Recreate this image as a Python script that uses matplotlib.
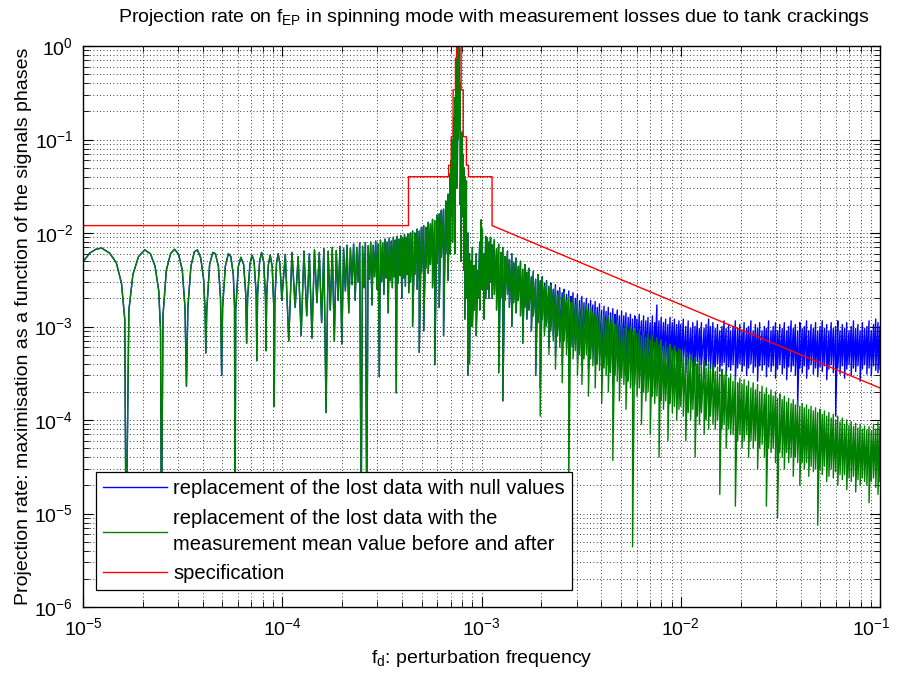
import numpy as np
import matplotlib
matplotlib.use("Agg")
import matplotlib.pyplot as plt
from matplotlib.ticker import LogLocator, NullFormatter
from matplotlib.transforms import ScaledTranslation

plt.rcParams['font.family'] = ['Liberation Sans', 'DejaVu Sans']
plt.rcParams['mathtext.fontset'] = 'custom'
plt.rcParams['mathtext.rm'] = 'Liberation Sans'
plt.rcParams['mathtext.it'] = 'Liberation Sans'
plt.rcParams['mathtext.default'] = 'regular'

# --- data ------------------------------------------------------------------
# low frequency part: separate sinc lobes, (frequency in 1e-5 Hz, rate)
lobe_f = [1.00, 1.08, 1.16, 1.24, 1.36, 1.47, 1.56, 1.62, 1.645,
          1.70, 1.78, 1.90, 2.04, 2.18, 2.30, 2.40, 2.45, 2.475,
          2.52, 2.62, 2.75, 2.88, 3.02, 3.15, 3.25, 3.305,
          3.36, 3.48, 3.62, 3.75, 3.90, 4.03, 4.10, 4.135,
          4.18, 4.32, 4.48, 4.62, 4.78, 4.90, 4.965,
          5.02, 5.18, 5.36, 5.52, 5.68, 5.76, 5.795,
          5.84, 6.02, 6.20, 6.40, 6.56, 6.625,
          6.70, 6.88, 7.05, 7.22, 7.40, 7.455,
          7.52, 7.70, 7.88, 8.08, 8.24, 8.285,
          8.36, 8.52, 8.70, 8.90, 9.07, 9.115,
          9.18, 9.36, 9.54, 9.74, 9.90, 9.945,
          10.36, 10.78, 11.19, 11.61, 12.02, 12.44, 12.85, 13.27,
          13.68, 14.10, 14.51, 14.93, 15.34, 15.76, 16.17, 16.59,
          17.00, 17.42, 17.83, 18.25, 18.66, 19.08, 19.49, 19.91,
          20.32, 20.74, 21.15, 21.57, 21.98, 22.40, 22.81, 23.23,
          23.64, 24.06, 24.47, 24.89, 25.30, 25.72, 26.13, 26.55,
          26.96, 27.38, 27.79, 28.21, 28.62, 29.04, 29.45, 29.87,
          30.28, 30.70, 31.11, 31.53, 31.94, 32.36, 32.77, 33.19,
          33.60, 34.02, 34.43, 34.85, 35.26, 35.68, 36.09, 36.51,
          36.92, 37.34, 37.75, 38.17, 38.58, 39.00, 39.41, 39.83,
          40.24, 40.66, 41.07, 41.49, 41.90, 42.32, 42.73, 43.15]
lobe_v = [4.9e-3, 6.1e-3, 6.7e-3, 6.9e-3, 6.1e-3, 4.8e-3, 2.9e-3, 1.2e-3, 4e-6,
          1.5e-3, 3.6e-3, 5.6e-3, 6.6e-3, 6.0e-3, 4.4e-3, 2.4e-3, 9e-4, 4e-6,
          1.3e-3, 4.0e-3, 6.0e-3, 6.7e-3, 5.9e-3, 4.0e-3, 1.6e-3, 2.3e-4,
          1.6e-3, 4.4e-3, 6.3e-3, 6.6e-3, 5.4e-3, 3.2e-3, 1.5e-3, 5.2e-4,
          1.5e-3, 4.6e-3, 6.2e-3, 6.0e-3, 4.4e-3, 2.0e-3, 3e-4,
          1.6e-3, 4.4e-3, 6.0e-3, 5.6e-3, 3.6e-3, 1.6e-3, 5e-6,
          1.5e-3, 4.4e-3, 5.5e-3, 4.6e-3, 2.2e-3, 6.6e-4,
          2.0e-3, 4.6e-3, 5.8e-3, 5.0e-3, 2.2e-3, 4.3e-4,
          2.2e-3, 5.0e-3, 6.2e-3, 4.8e-3, 2.0e-3, 5.5e-4,
          2.2e-3, 4.6e-3, 5.8e-3, 4.4e-3, 1.6e-3, 1.4e-4,
          1.8e-3, 4.8e-3, 6.0e-3, 4.6e-3, 2.4e-3, 1.9e-3,
          5.9e-3, 7e-4, 6.2e-3, 1.6e-3, 5.6e-3, 8e-4, 6.4e-3, 1.3e-3,
          6.0e-3, 7.5e-4, 6.6e-3, 1.8e-3, 6.2e-3, 1.1e-3, 6.8e-3, 1.2e-4,
          6.4e-3, 1.5e-3, 7.0e-3, 7e-4, 6.5e-3, 1.9e-3, 7.2e-3, 6.5e-4,
          6.8e-3, 2.4e-3, 7.4e-3, 1.4e-3, 6.9e-3, 2.8e-3, 7.6e-3, 1.9e-3,
          7.0e-3, 3.0e-3, 7.8e-3, 8e-6, 7.2e-3, 2.6e-3, 7.9e-3, 8e-6,
          7.3e-3, 3.2e-3, 8.0e-3, 1.7e-3, 7.4e-3, 3.4e-3, 8.2e-3, 2.5e-3,
          7.6e-3, 2.9e-4, 8.4e-3, 3.0e-3, 7.8e-3, 2.2e-3, 8.6e-3, 3.3e-3,
          8.0e-3, 1.4e-3, 8.8e-3, 3.1e-3, 8.2e-3, 2.6e-3, 9.0e-3, 3.4e-3,
          8.4e-3, 1.95e-4, 9.2e-3, 2.9e-3, 8.6e-3, 3.5e-3, 9.4e-3, 2.0e-3,
          8.8e-3, 3.3e-3, 9.6e-3, 2.7e-3, 9.0e-3, 3.6e-3, 9.8e-3, 2.3e-3]

# dense part, mean-value replacement (green): (frequency, top, bottom)
green_peak = [
    (4.40e-4, 1.0e-2, 3.0e-3), (4.51e-4, 1.05e-2, 1.0e-3), (4.63e-4, 1.0e-2, 3.6e-3),
    (4.75e-4, 1.1e-2, 2.5e-3), (4.87e-4, 1.05e-2, 5.3e-4), (5.00e-4, 1.15e-2, 3.8e-3),
    (5.13e-4, 1.2e-2, 9e-4), (5.26e-4, 1.15e-2, 4.2e-3), (5.40e-4, 1.3e-2, 3.7e-3),
    (5.54e-4, 1.25e-2, 4.6e-3), (5.68e-4, 1.4e-2, 2.6e-3), (5.83e-4, 1.35e-2, 3.9e-4),
    (5.98e-4, 1.55e-2, 4.8e-3), (6.13e-4, 1.6e-2, 1.6e-3), (6.29e-4, 1.75e-2, 5.5e-3),
    (6.45e-4, 1.8e-2, 8e-4), (6.62e-4, 2.2e-2, 6e-3), (6.79e-4, 2.6e-2, 3.1e-3),
    (6.95e-4, 4.3e-2, 6e-3), (7.05e-4, 6.0e-2, 1.5e-2), (7.15e-4, 1.0e-1, 8e-3),
    (7.25e-4, 1.7e-1, 2.0e-2), (7.35e-4, 2.8e-1, 6e-3), (7.45e-4, 4.5e-1, 5e-2),
    (7.55e-4, 7.2e-1, 3e-2), (7.65e-4, 1.0, 1.0e-1), (7.75e-4, 9.5e-1, 1.5e-1),
    (7.82e-4, 4.0e-1, 2e-2), (7.90e-4, 9e-2, 5e-3), (7.98e-4, 1.2e-1, 3e-2),
    (8.05e-4, 7e-2, 1.5e-2), (8.15e-4, 5e-2, 4e-3), (8.25e-4, 4e-2, 1.2e-3),
    (8.40e-4, 3.6e-2, 2e-3), (8.55e-4, 1.0e-2, 3e-4), (8.70e-4, 6e-3, 4e-4),
    (8.85e-4, 5e-3, 1e-3), (9.00e-4, 7e-3, 1e-3), (9.20e-4, 4.5e-3, 1.5e-3),
    (9.40e-4, 6e-3, 8e-4), (9.60e-4, 4e-3, 2e-3), (9.80e-4, 8e-3, 1.5e-3),
    (9.95e-4, 1.38e-2, 2.5e-3), (1.01e-3, 1.1e-2, 2.5e-3), (1.03e-3, 6e-3, 1.2e-3),
    (1.05e-3, 9.2e-3, 2e-3), (1.07e-3, 8.8e-3, 2.5e-3), (1.09e-3, 8e-3, 2e-3),
    (1.11e-3, 9e-3, 3e-3), (1.13e-3, 7.5e-3, 2e-3),
]
green_dec3 = [
    (1.16e-3, 8.5e-3, 2.2e-3), (1.19e-3, 6.8e-3, 1.5e-3), (1.22e-3, 7.6e-3, 3.2e-4),
    (1.25e-3, 6.2e-3, 2.0e-3), (1.28e-3, 7.0e-3, 1.6e-4), (1.31e-3, 5.6e-3, 1.9e-3),
    (1.35e-3, 6.4e-3, 2.2e-3), (1.38e-3, 5.2e-3, 1.6e-3), (1.42e-3, 6.0e-3, 1.0e-3),
    (1.45e-3, 4.8e-3, 1.8e-3), (1.49e-3, 5.4e-3, 1.4e-3), (1.53e-3, 4.4e-3, 1.9e-3),
    (1.57e-3, 5.0e-3, 1.3e-3), (1.61e-3, 4.1e-3, 6.6e-4), (1.65e-3, 4.6e-3, 1.6e-3),
    (1.69e-3, 3.8e-3, 1.2e-3), (1.73e-3, 4.2e-3, 1.5e-3), (1.78e-3, 3.4e-3, 9e-4),
    (1.82e-3, 3.9e-3, 1.3e-3), (1.87e-3, 3.2e-3, 3e-4), (1.92e-3, 3.6e-3, 1.1e-3),
    (1.97e-3, 3.0e-3, 1.1e-4), (2.02e-3, 3.3e-3, 1.2e-3), (2.07e-3, 2.7e-3, 8e-4),
    (2.12e-3, 3.0e-3, 1.0e-3), (2.18e-3, 2.5e-3, 5e-4), (2.23e-3, 2.8e-3, 9e-4),
    (2.29e-3, 2.3e-3, 7e-4), (2.35e-3, 2.6e-3, 3.5e-4), (2.41e-3, 2.2e-3, 8e-4),
    (2.47e-3, 2.4e-3, 6e-4), (2.54e-3, 2.0e-3, 2.5e-4), (2.60e-3, 2.3e-3, 7e-4),
    (2.67e-3, 1.9e-3, 5e-4), (2.74e-3, 2.1e-3, 2e-5), (2.81e-3, 1.8e-3, 6e-4),
    (2.88e-3, 2.0e-3, 4.5e-4), (2.96e-3, 1.7e-3, 5.5e-4), (3.03e-3, 1.9e-3, 3e-4),
    (3.11e-3, 1.6e-3, 5e-4), (3.19e-3, 1.8e-3, 2.4e-4), (3.27e-3, 1.5e-3, 4.5e-4),
    (3.36e-3, 1.7e-3, 5e-4), (3.44e-3, 1.45e-3, 1.8e-4), (3.53e-3, 1.6e-3, 4.5e-4),
    (3.62e-3, 1.4e-3, 3.8e-4), (3.72e-3, 1.5e-3, 2.2e-4), (3.81e-3, 1.3e-3, 4e-4),
    (3.91e-3, 1.45e-3, 3.4e-4), (4.01e-3, 1.2e-3, 1.5e-4), (4.12e-3, 1.35e-3, 3.6e-4),
    (4.22e-3, 1.15e-3, 3e-4), (4.33e-3, 1.3e-3, 2e-4), (4.44e-3, 1.1e-3, 3.2e-4),
    (4.56e-3, 1.25e-3, 3.7e-5), (4.68e-3, 1.05e-3, 3e-4), (4.80e-3, 1.15e-3, 2.6e-4),
    (4.92e-3, 1.0e-3, 1.6e-4), (5.05e-3, 1.1e-3, 2.8e-4), (5.18e-3, 9.5e-4, 2.4e-4),
    (5.31e-3, 1.05e-3, 1.3e-4), (5.45e-3, 9.0e-4, 2.6e-4), (5.59e-3, 1.0e-3, 2.2e-4),
    (5.73e-3, 8.8e-4, 4.4e-6), (5.88e-3, 9.6e-4, 2.4e-4), (6.03e-3, 8.4e-4, 1.8e-4),
    (6.19e-3, 9.2e-4, 2.2e-4), (6.35e-3, 8.0e-4, 9e-5), (6.51e-3, 8.8e-4, 2e-4),
    (6.68e-3, 7.6e-4, 1.6e-4), (6.85e-3, 8.4e-4, 2e-4), (7.03e-3, 7.2e-4, 7e-5),
    (7.21e-3, 8.0e-4, 1.8e-4), (7.40e-3, 6.8e-4, 1.5e-4), (7.59e-3, 7.6e-4, 1.8e-4),
    (7.78e-3, 6.5e-4, 4e-5), (7.98e-3, 7.2e-4, 1.6e-4), (8.19e-3, 6.2e-4, 1.3e-4),
    (8.40e-3, 6.8e-4, 1.6e-4), (8.62e-3, 5.9e-4, 6e-5), (8.84e-3, 6.5e-4, 1.5e-4),
    (9.07e-3, 5.6e-4, 1.2e-4), (9.30e-3, 6.2e-4, 1.4e-4), (9.54e-3, 5.3e-4, 1.0e-4),
    (9.79e-3, 5.8e-4, 1.3e-4),
]
green_dec2 = [
    (1.00e-2, 5.6e-4, 1.4e-4), (1.03e-2, 4.8e-4, 1.1e-4), (1.06e-2, 5.3e-4, 6e-5),
    (1.09e-2, 4.4e-4, 1.2e-4), (1.12e-2, 5.0e-4, 1.0e-4), (1.15e-2, 4.2e-4, 1.3e-4),
    (1.18e-2, 4.7e-4, 4e-5), (1.21e-2, 4.0e-4, 1.1e-4), (1.24e-2, 4.5e-4, 9e-5),
    (1.27e-2, 3.8e-4, 1.2e-4), (1.31e-2, 4.3e-4, 7e-5), (1.34e-2, 3.6e-4, 1.0e-4),
    (1.38e-2, 4.1e-4, 8e-5), (1.41e-2, 3.4e-4, 1.1e-4), (1.45e-2, 3.9e-4, 9e-5),
    (1.49e-2, 3.3e-4, 8e-5), (1.53e-2, 3.7e-4, 1.0e-4), (1.57e-2, 3.1e-4, 1.6e-5),
    (1.61e-2, 3.5e-4, 8e-5), (1.65e-2, 3.0e-4, 9e-5), (1.69e-2, 3.3e-4, 5e-5),
    (1.74e-2, 2.8e-4, 8e-5), (1.78e-2, 3.1e-4, 7e-5), (1.83e-2, 2.6e-4, 7e-5),
    (1.88e-2, 2.9e-4, 1.2e-5), (1.93e-2, 2.5e-4, 6e-5), (1.98e-2, 2.8e-4, 7e-5),
    (2.03e-2, 2.4e-4, 5e-5), (2.08e-2, 2.7e-4, 6e-5), (2.14e-2, 2.3e-4, 7e-5),
    (2.19e-2, 2.6e-4, 4e-5), (2.25e-2, 2.2e-4, 6e-5), (2.31e-2, 2.5e-4, 5e-5),
    (2.37e-2, 2.1e-4, 6e-5), (2.43e-2, 2.4e-4, 3e-5), (2.49e-2, 2.0e-4, 5e-5),
    (2.56e-2, 2.3e-4, 5.5e-5), (2.63e-2, 1.9e-4, 4e-5), (2.69e-2, 2.2e-4, 1.2e-5),
    (2.76e-2, 1.85e-4, 5e-5), (2.84e-2, 2.1e-4, 4.5e-5), (2.91e-2, 1.8e-4, 5e-5),
    (2.99e-2, 2.0e-4, 3.5e-5), (3.06e-2, 1.7e-4, 9e-6), (3.14e-2, 1.9e-4, 4.5e-5),
    (3.23e-2, 1.65e-4, 4e-5), (3.31e-2, 1.8e-4, 3e-5), (3.40e-2, 1.55e-4, 4.5e-5),
    (3.48e-2, 1.7e-4, 3.5e-5), (3.58e-2, 1.5e-4, 4e-5), (3.67e-2, 1.65e-4, 2.5e-5),
    (3.76e-2, 1.45e-4, 4e-5), (3.86e-2, 1.6e-4, 3.5e-5), (3.96e-2, 1.4e-4, 2e-5),
    (4.07e-2, 1.5e-4, 3.5e-5), (4.17e-2, 1.35e-4, 3e-5), (4.28e-2, 1.45e-4, 3.5e-5),
    (4.39e-2, 1.3e-4, 2.5e-5), (4.51e-2, 1.4e-4, 3.2e-5), (4.63e-2, 1.25e-4, 2.8e-5),
    (4.75e-2, 1.35e-4, 3e-5), (4.87e-2, 1.2e-4, 7.5e-6), (5.00e-2, 1.3e-4, 3e-5),
    (5.13e-2, 1.15e-4, 2.6e-5), (5.26e-2, 1.25e-4, 3.2e-5), (5.40e-2, 1.1e-4, 2.2e-5),
    (5.54e-2, 1.2e-4, 2.5e-5), (5.69e-2, 1.05e-4, 3e-5), (5.83e-2, 1.15e-4, 2.4e-5),
    (5.99e-2, 1.0e-4, 2.8e-5), (6.14e-2, 1.1e-4, 2e-5), (6.30e-2, 9.5e-5, 2.6e-5),
    (6.47e-2, 1.05e-4, 2.3e-5), (6.64e-2, 9.0e-5, 2.6e-5), (6.81e-2, 1.0e-4, 1.8e-5),
    (6.99e-2, 8.8e-5, 2.4e-5), (7.17e-2, 9.6e-5, 2.2e-5), (7.36e-2, 8.5e-5, 2.5e-5),
    (7.55e-2, 9.2e-5, 1.7e-5), (7.75e-2, 8.2e-5, 2.3e-5), (7.95e-2, 9.0e-5, 2.0e-5),
    (8.16e-2, 8.0e-5, 2.4e-5), (8.37e-2, 8.6e-5, 2.2e-5), (8.59e-2, 7.8e-5, 2.0e-5),
    (8.81e-2, 8.5e-5, 1.3e-5), (9.04e-2, 7.6e-5, 2.2e-5), (9.28e-2, 9.0e-5, 2.4e-5),
    (9.52e-2, 8.0e-5, 1.9e-5), (9.77e-2, 9.5e-5, 1.6e-5), (1.00e-1, 8.5e-5, 2.2e-5),
]

# null-value replacement (blue): same as green below 1.97e-3, then its own band
blue_dec3 = [
    (1.97e-3, 3.1e-3, 2.2e-4), (2.02e-3, 3.4e-3, 1.3e-3), (2.07e-3, 2.9e-3, 9e-4),
    (2.12e-3, 3.1e-3, 1.1e-3), (2.18e-3, 2.7e-3, 6e-4), (2.23e-3, 2.9e-3, 1.0e-3),
    (2.29e-3, 2.5e-3, 8e-4), (2.35e-3, 2.8e-3, 5e-4), (2.41e-3, 2.4e-3, 9e-4),
    (2.47e-3, 2.6e-3, 7e-4), (2.54e-3, 2.3e-3, 4e-4), (2.60e-3, 2.5e-3, 8e-4),
    (2.67e-3, 2.2e-3, 6e-4), (2.74e-3, 2.4e-3, 3.2e-4), (2.81e-3, 2.1e-3, 7e-4),
    (2.88e-3, 2.3e-3, 6e-4), (2.96e-3, 2.0e-3, 6.5e-4), (3.03e-3, 2.2e-3, 4.5e-4),
    (3.11e-3, 1.9e-3, 6.5e-4), (3.19e-3, 2.1e-3, 4e-4), (3.27e-3, 1.8e-3, 6e-4),
    (3.36e-3, 2.0e-3, 6.5e-4), (3.44e-3, 1.75e-3, 3.5e-4), (3.53e-3, 1.9e-3, 6e-4),
    (3.62e-3, 1.7e-3, 5.5e-4), (3.72e-3, 1.85e-3, 4e-4), (3.81e-3, 1.6e-3, 5.5e-4),
    (3.91e-3, 1.75e-3, 5e-4), (4.01e-3, 1.5e-3, 3e-4), (4.12e-3, 1.65e-3, 5.5e-4),
    (4.22e-3, 1.45e-3, 4.8e-4), (4.33e-3, 1.6e-3, 4e-4), (4.44e-3, 1.4e-3, 5e-4),
    (4.56e-3, 1.55e-3, 2.4e-4), (4.68e-3, 1.35e-3, 5e-4), (4.80e-3, 1.5e-3, 4.6e-4),
    (4.92e-3, 1.3e-3, 3.5e-4), (5.05e-3, 1.45e-3, 5e-4), (5.18e-3, 1.3e-3, 4.4e-4),
    (5.31e-3, 1.4e-3, 3e-4), (5.45e-3, 1.25e-3, 4.8e-4), (5.59e-3, 1.35e-3, 4.4e-4),
    (5.73e-3, 1.2e-3, 2.3e-4), (5.88e-3, 1.3e-3, 4.6e-4), (6.03e-3, 1.2e-3, 4e-4),
    (6.19e-3, 1.35e-3, 4.5e-4), (6.35e-3, 1.15e-3, 3e-4), (6.51e-3, 1.3e-3, 4.4e-4),
    (6.68e-3, 1.15e-3, 4e-4), (6.85e-3, 1.25e-3, 4.6e-4), (7.03e-3, 1.1e-3, 2.8e-4),
    (7.21e-3, 1.3e-3, 4.4e-4), (7.40e-3, 1.1e-3, 4e-4), (7.59e-3, 1.7e-3, 4.5e-4),
    (7.78e-3, 1.15e-3, 3e-4), (7.98e-3, 1.25e-3, 4.2e-4), (8.19e-3, 1.1e-3, 3.8e-4),
    (8.40e-3, 1.2e-3, 4.4e-4), (8.62e-3, 1.05e-3, 2.8e-4), (8.84e-3, 1.25e-3, 4.2e-4),
    (9.07e-3, 1.1e-3, 3.8e-4), (9.30e-3, 1.2e-3, 4.2e-4), (9.54e-3, 1.05e-3, 3.2e-4),
    (9.79e-3, 1.15e-3, 4e-4),
]
blue_dec2 = [
    (1.00e-2, 1.05e-3, 3.6e-4), (1.03e-2, 1.2e-3, 4.2e-4), (1.06e-2, 1.0e-3, 3.2e-4),
    (1.09e-2, 1.15e-3, 4.0e-4), (1.12e-2, 9.5e-4, 3.6e-4), (1.15e-2, 1.1e-3, 2.6e-4),
    (1.18e-2, 1.0e-3, 3.8e-4), (1.21e-2, 1.15e-3, 4.2e-4), (1.24e-2, 9.5e-4, 3.4e-4),
    (1.27e-2, 1.1e-3, 3.9e-4), (1.31e-2, 9.5e-4, 2.8e-4), (1.34e-2, 1.05e-3, 3.8e-4),
    (1.38e-2, 1.2e-3, 4.2e-4), (1.41e-2, 1.0e-3, 3.5e-4), (1.45e-2, 1.1e-3, 2.5e-4),
    (1.49e-2, 9.5e-4, 3.7e-4), (1.53e-2, 1.05e-3, 4e-4), (1.57e-2, 9.0e-4, 3.3e-4),
    (1.61e-2, 1.0e-3, 3.8e-4), (1.65e-2, 1.15e-3, 4.1e-4), (1.69e-2, 9.5e-4, 3.0e-4),
    (1.74e-2, 1.05e-3, 3.7e-4), (1.78e-2, 9.0e-4, 3.4e-4), (1.83e-2, 1.0e-3, 3.9e-4),
    (1.88e-2, 1.15e-3, 2.7e-4), (1.93e-2, 9.5e-4, 3.6e-4), (1.98e-2, 1.05e-3, 4e-4),
    (2.03e-2, 9.0e-4, 3.3e-4), (2.08e-2, 1.1e-3, 3.8e-4), (2.14e-2, 9.5e-4, 3.0e-4),
    (2.19e-2, 1.0e-3, 3.6e-4), (2.25e-2, 1.15e-3, 4e-4), (2.31e-2, 9.0e-4, 3.2e-4),
    (2.37e-2, 1.05e-3, 3.7e-4), (2.43e-2, 9.5e-4, 2.6e-4), (2.49e-2, 1.1e-3, 3.8e-4),
    (2.56e-2, 9.0e-4, 3.4e-4), (2.63e-2, 1.0e-3, 3.9e-4), (2.69e-2, 9.5e-4, 2.9e-4),
    (2.76e-2, 1.15e-3, 3.7e-4), (2.84e-2, 9.0e-4, 3.3e-4), (2.91e-2, 1.0e-3, 3.8e-4),
    (2.99e-2, 1.1e-3, 2.8e-4), (3.06e-2, 9.0e-4, 3.5e-4), (3.14e-2, 1.05e-3, 3.9e-4),
    (3.23e-2, 9.5e-4, 3.1e-4), (3.31e-2, 1.1e-3, 3.6e-4), (3.40e-2, 9.0e-4, 2.7e-4),
    (3.48e-2, 1.0e-3, 3.7e-4), (3.58e-2, 1.15e-3, 3.3e-4), (3.67e-2, 9.5e-4, 3.8e-4),
    (3.76e-2, 1.05e-3, 3.0e-4), (3.86e-2, 9.0e-4, 1.4e-4), (3.96e-2, 1.1e-3, 3.6e-4),
    (4.07e-2, 9.5e-4, 3.2e-4), (4.17e-2, 1.0e-3, 3.8e-4), (4.28e-2, 1.15e-3, 2.8e-4),
    (4.39e-2, 9.0e-4, 3.5e-4), (4.51e-2, 1.05e-3, 3.9e-4), (4.63e-2, 9.5e-4, 3.1e-4),
    (4.75e-2, 1.1e-3, 3.6e-4), (4.87e-2, 9.0e-4, 2.9e-4), (5.00e-2, 1.0e-3, 3.7e-4),
    (5.13e-2, 1.15e-3, 3.3e-4), (5.26e-2, 9.5e-4, 3.8e-4), (5.40e-2, 1.05e-3, 2.7e-4),
    (5.54e-2, 9.0e-4, 3.5e-4), (5.69e-2, 1.1e-3, 3.9e-4), (5.83e-2, 9.5e-4, 3.2e-4),
    (5.99e-2, 1.0e-3, 1.1e-4), (6.14e-2, 1.15e-3, 3.6e-4), (6.30e-2, 9.0e-4, 3.1e-4),
    (6.47e-2, 1.05e-3, 3.8e-4), (6.64e-2, 9.5e-4, 2.8e-4), (6.81e-2, 1.1e-3, 3.5e-4),
    (6.99e-2, 9.0e-4, 3.9e-4), (7.17e-2, 1.0e-3, 3.0e-4), (7.36e-2, 1.15e-3, 3.6e-4),
    (7.55e-2, 9.5e-4, 3.3e-4), (7.75e-2, 1.05e-3, 3.8e-4), (7.95e-2, 9.0e-4, 2.6e-4),
    (8.16e-2, 1.1e-3, 3.5e-4), (8.37e-2, 9.5e-4, 3.9e-4), (8.59e-2, 1.0e-3, 3.1e-4),
    (8.81e-2, 1.15e-3, 3.6e-4), (9.04e-2, 9.0e-4, 3.0e-4), (9.28e-2, 1.05e-3, 3.8e-4),
    (9.52e-2, 1.2e-3, 3.4e-4), (9.77e-2, 1.1e-3, 3.2e-4), (1.00e-1, 1.0e-3, 3.5e-4),
]

# specification template (red)
spec_f = [1e-5, 4.3e-4, 4.3e-4, 6.84e-4, 6.84e-4, 7.05e-4, 7.05e-4, 7.2e-4, 7.2e-4,
          7.4e-4, 7.4e-4, 7.5e-4, 7.5e-4, 7.9e-4, 7.9e-4, 8.1e-4, 8.1e-4, 8.4e-4,
          8.4e-4, 8.6e-4, 8.6e-4, 1.13e-3, 1.13e-3, 1e-1]
spec_v = [1.2e-2, 1.2e-2, 4e-2, 4e-2, 5.3e-2, 5.3e-2, 0.107, 0.107, 0.34,
          0.34, 0.74, 0.74, 1.5, 1.5, 0.34, 0.34, 0.107, 0.107,
          5.3e-2, 5.3e-2, 4e-2, 4e-2, 1.2e-2, 2.2e-4]

labels = ['replacement of the lost data with null values',
          'replacement of the lost data with the\nmeasurement mean value before and after',
          'specification']


def band_path(rows):
    # each row: a vertical stroke from the top value down to the bottom value
    arr = np.array(rows)
    x = np.repeat(arr[:, 0], 2)
    y = np.column_stack([arr[:, 1], arr[:, 2]]).ravel()
    return x, y


lx = np.array(lobe_f) * 1e-5
ly = np.array(lobe_v)

green_rows = green_peak + green_dec3 + green_dec2
gx, gy = band_path(green_rows)
green_x = np.concatenate([lx, gx])
green_y = np.concatenate([ly, gy])

blue_rows = [r for r in green_rows if r[0] < 1.97e-3] + blue_dec3 + blue_dec2
bx, by = band_path(blue_rows)
blue_x = np.concatenate([lx, bx])
blue_y = np.concatenate([ly, by])

# --- figure ------------------------------------------------------------------
fig = plt.figure(figsize=(8.97, 6.82), dpi=100)
ax = fig.add_axes([83 / 897, 75 / 682, 797 / 897, 561 / 682])

ax.plot(blue_x, blue_y, color='#0000ff', lw=1.0, label=labels[0])
ax.plot(green_x, green_y, color='#008000', lw=1.0, label=labels[1])
ax.plot(spec_f, spec_v, color='#ff0000', lw=1.0, label=labels[2])

ax.set_xscale('log')
ax.set_yscale('log')
ax.set_xlim(1e-5, 1e-1)
ax.set_ylim(1e-6, 1)

for axis in (ax.xaxis, ax.yaxis):
    axis.set_major_locator(LogLocator(base=10, numticks=20))
    axis.set_minor_locator(LogLocator(base=10, subs=np.arange(2, 10), numticks=200))
    axis.set_minor_formatter(NullFormatter())

ax.grid(True, which='both', color='k', linestyle=(0, (1, 3)), linewidth=0.6)
ax.tick_params(which='both', direction='in', top=True, right=True, labelsize=14)
ax.tick_params(which='major', length=7, width=0.8)
ax.tick_params(which='minor', length=4, width=0.6)
ax.tick_params(axis='x', pad=7)
ax.tick_params(axis='y', pad=7)
for sp in ax.spines.values():
    sp.set_linewidth(1.0)

ax.set_title('Projection rate on f$_{EP}$ in spinning mode with measurement losses due to tank crackings',
             fontsize=14, pad=17, x=0.515)
ax.set_xlabel('f$_d$: perturbation frequency', fontsize=14, labelpad=7)
ax.set_ylabel('Projection rate: maximisation as a function of the signals phases', fontsize=14,
              labelpad=2)

leg = ax.legend(loc='lower left', bbox_to_anchor=(0.016, 0.03), fontsize=14.5,
                frameon=True, fancybox=False, framealpha=1, edgecolor='k',
                handlelength=3.2, handletextpad=0.3, borderaxespad=0,
                labelspacing=0.5, borderpad=0.35)
leg.get_frame().set_linewidth(0.9)
leg.get_texts()[1].set_linespacing(1.5)

# MATLAB puts the "10" of the last label against the axis end; keep it inside the figure
fig.canvas.draw()
for tick in ax.xaxis.get_major_ticks():
    if np.isclose(tick.get_loc(), 1e-1):
        tick.label1.set_transform(tick.label1.get_transform()
                                  + ScaledTranslation(-6 / 72, 0, fig.dpi_scale_trans))

fig.savefig('out.png', dpi=100)
